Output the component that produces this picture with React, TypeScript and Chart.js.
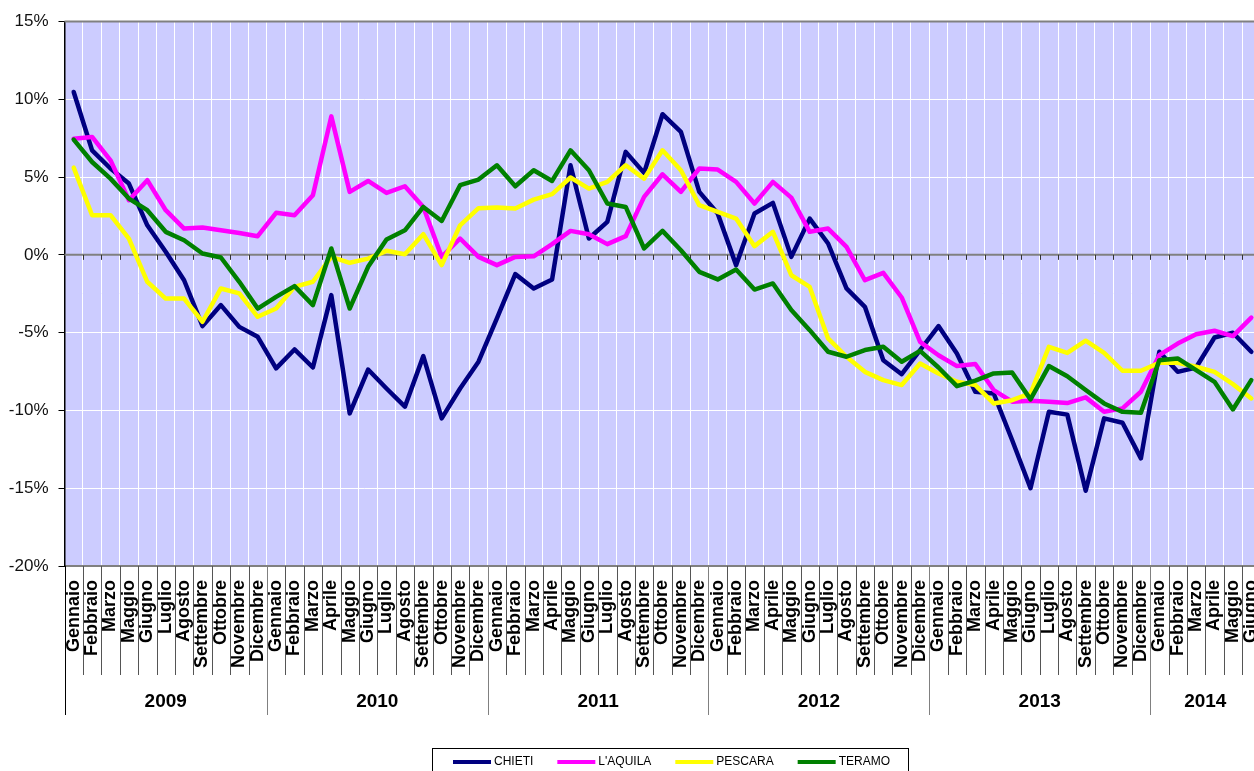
import React, { useEffect, useRef } from 'react';
import { Chart, registerables } from 'chart.js';

Chart.register(...registerables);

// ---- Data ----
const YEARS = ['2009', '2010', '2011', '2012', '2013', '2014'];
const MONTHS_2009 = ['Gennaio', 'Febbraio', 'Marzo', 'Maggio', 'Giugno', 'Luglio', 'Agosto', 'Settembre', 'Ottobre', 'Novembre', 'Dicembre'];
const MONTHS_FULL = ['Gennaio', 'Febbraio', 'Marzo', 'Aprile', 'Maggio', 'Giugno', 'Luglio', 'Agosto', 'Settembre', 'Ottobre', 'Novembre', 'Dicembre'];
const MONTHS_2014 = ['Gennaio', 'Febbraio', 'Marzo', 'Aprile', 'Maggio', 'Giugno'];
const MONTHS_PER_YEAR = [11, 12, 12, 12, 12, 6];
const LABELS = [...MONTHS_2009, ...MONTHS_FULL, ...MONTHS_FULL, ...MONTHS_FULL, ...MONTHS_FULL, ...MONTHS_2014];

const SERIES_NAMES = ['CHIETI', "L'AQUILA", 'PESCARA', 'TERAMO'];
const SERIES_COLORS = ['#000080', '#FF00FF', '#FFFF00', '#008000'];

const CHIETI = [
  10.47, 6.72, 5.55, 4.58, 1.9, 0.2, -1.63, -4.58, -3.23, -4.63, -5.27,
  -7.3, -6.08, -7.24, -2.59, -10.19, -7.37, -8.59, -9.76, -6.51, -10.51, -8.59, -6.87,
  -4.09, -1.24, -2.16, -1.58, 5.76, 1.05, 2.12, 6.62, 5.27, 9.04, 7.9, 4.05,
  2.66, -0.66, 2.66, 3.34, -0.13, 2.33, 0.73, -2.16, -3.34, -6.77, -7.67, -6.12,
  -4.58, -6.34, -8.8, -8.91, -11.9, -15.0, -10.09, -10.27, -15.16, -10.51, -10.79, -13.08,
  -6.23, -7.52, -7.24, -5.31, -5.01, -6.23,
];
const LAQUILA = [
  7.47, 7.58, 6.08, 3.51, 4.8, 2.87, 1.69, 1.76, 1.58, 1.41, 1.2,
  2.7, 2.55, 3.83, 8.9, 4.05, 4.75, 3.98, 4.41, 3.08, -0.13, 1.05, -0.13,
  -0.66, -0.13, -0.09, 0.69, 1.54, 1.33, 0.69, 1.2, 3.73, 5.18, 4.05, 5.55,
  5.48, 4.69, 3.3, 4.69, 3.68, 1.48, 1.69, 0.51, -1.63, -1.16, -2.74, -5.59,
  -6.45, -7.15, -7.02, -8.69, -9.44, -9.38, -9.44, -9.53, -9.16, -10.09, -9.87, -8.8,
  -6.45, -5.7, -5.1, -4.88, -5.22, -4.03,
];
const PESCARA = [
  5.61, 2.55, 2.55, 1.05, -1.73, -2.81, -2.81, -4.3, -2.16, -2.48, -3.98,
  -3.45, -2.06, -1.73, -0.13, -0.51, -0.24, 0.26, 0.04, 1.33, -0.66, 1.9, 3.0,
  3.04, 2.98, 3.55, 3.9, 4.97, 4.26, 4.69, 5.76, 4.9, 6.72, 5.44, 3.19,
  2.76, 2.33, 0.56, 1.48, -1.31, -2.06, -5.37, -6.55, -7.52, -8.05, -8.37, -6.98,
  -7.62, -8.16, -8.37, -9.55, -9.34, -8.91, -5.91, -6.3, -5.52, -6.3, -7.45, -7.45,
  -6.94, -6.94, -7.19, -7.52, -8.31, -9.23,
];
const TERAMO = [
  7.41, 5.97, 4.9, 3.62, 2.87, 1.48, 0.94, 0.09, -0.17, -1.73, -3.45,
  -2.7, -2.01, -3.23, 0.41, -3.45, -0.77, 0.99, 1.58, 3.08, 2.18, 4.48, 4.84,
  5.76, 4.41, 5.44, 4.75, 6.72, 5.44, 3.3, 3.08, 0.41, 1.54, 0.3, -1.09,
  -1.58, -0.94, -2.23, -1.84, -3.55, -4.84, -6.23, -6.55, -6.12, -5.91, -6.87, -6.17,
  -7.24, -8.44, -8.09, -7.62, -7.56, -9.29, -7.15, -7.8, -8.69, -9.55, -10.09, -10.15,
  -6.77, -6.66, -7.41, -8.16, -9.94, -8.05,
];
const SERIES_VALUES = [CHIETI, LAQUILA, PESCARA, TERAMO];

const Y_MIN = -20;
const Y_MAX = 15;
const Y_STEP = 5;

// ---- Canvas geometry ----
const W = 1262;
const H = 790;

const decor = {
  id: 'decor',
  beforeDraw(chart: any) {
    const { ctx, chartArea: a } = chart;
    ctx.save();
    ctx.fillStyle = '#CCCCFF';
    ctx.fillRect(a.left, a.top, a.right - a.left, a.bottom - a.top);
    ctx.restore();
  },
  beforeDatasetsDraw(chart: any) {
    const { ctx, chartArea: a } = chart;
    const xs = chart.scales.x;
    const ys = chart.scales.y;
    ctx.save();
    // top border
    ctx.strokeStyle = '#808080';
    ctx.lineWidth = 2;
    ctx.beginPath();
    ctx.moveTo(a.left, a.top);
    ctx.lineTo(a.right, a.top);
    ctx.stroke();
    // zero line with tick marks
    const y0 = ys.getPixelForValue(0);
    ctx.beginPath();
    ctx.moveTo(a.left, y0);
    ctx.lineTo(a.right, y0);
    ctx.stroke();
    ctx.strokeStyle = '#333333';
    ctx.lineWidth = 1;
    ctx.beginPath();
    for (let i = 1; i < LABELS.length; i++) {
      const bx = Math.round((xs.getPixelForValue(i - 1) + xs.getPixelForValue(i)) / 2) + 0.5;
      ctx.moveTo(bx, y0);
      ctx.lineTo(bx, y0 + 5);
    }
    ctx.stroke();
    ctx.restore();
  },
  afterDraw(chart: any) {
    const { ctx, chartArea: a } = chart;
    const xs = chart.scales.x;
    const half = (xs.getPixelForValue(1) - xs.getPixelForValue(0)) / 2;
    ctx.save();
    // month separators and year separators
    const yearStarts: number[] = [];
    let acc = 0;
    MONTHS_PER_YEAR.forEach((n) => { yearStarts.push(acc); acc += n; });
    ctx.lineWidth = 1;
    for (let i = 0; i <= LABELS.length; i++) {
      const bx = Math.round(i < LABELS.length ? xs.getPixelForValue(i) - half : xs.getPixelForValue(i - 1) + half) + 0.5;
      const isYear = yearStarts.includes(i) || i === LABELS.length;
      ctx.strokeStyle = i === 0 ? '#000000' : isYear ? '#808080' : '#555555';
      ctx.beginPath();
      ctx.moveTo(bx, a.bottom);
      ctx.lineTo(bx, isYear ? 715 : 675);
      ctx.stroke();
    }
    // year labels
    ctx.fillStyle = '#000';
    ctx.font = 'bold 19px "Liberation Sans", Arial, sans-serif';
    ctx.textAlign = 'center';
    ctx.textBaseline = 'middle';
    YEARS.forEach((yr, k) => {
      const s = yearStarts[k];
      const e = s + MONTHS_PER_YEAR[k] - 1;
      const cx = (xs.getPixelForValue(s) - half + xs.getPixelForValue(e) + half) / 2;
      ctx.fillText(yr, cx, 702);
    });
    // legend
    ctx.strokeStyle = '#000';
    ctx.lineWidth = 1;
    ctx.strokeRect(432.5, 748.5, 476, 60);
    ctx.font = '12px "Liberation Sans", Arial, sans-serif';
    ctx.textAlign = 'left';
    let lx = 453;
    const ly = 762;
    SERIES_NAMES.forEach((name, k) => {
      ctx.strokeStyle = SERIES_COLORS[k];
      ctx.lineWidth = 4;
      ctx.beginPath();
      ctx.moveTo(lx, ly);
      ctx.lineTo(lx + 38, ly);
      ctx.stroke();
      ctx.fillStyle = '#000';
      ctx.fillText(name, lx + 41, ly);
      lx += 41 + ctx.measureText(name).width + 24;
    });
    ctx.restore();
  },
};

export default function App() {
  const ref = useRef<HTMLCanvasElement>(null);
  useEffect(() => {
    const canvas = ref.current;
    if (!canvas) return;
    const chart = new Chart(canvas, {
      type: 'line',
      data: {
        labels: LABELS,
        datasets: SERIES_NAMES.map((name, k) => ({
          label: name,
          data: SERIES_VALUES[k],
          borderColor: SERIES_COLORS[k],
          backgroundColor: SERIES_COLORS[k],
          borderWidth: 4.5,
          pointRadius: 0,
          tension: 0,
          borderJoinStyle: 'round' as const,
          borderCapStyle: 'round' as const,
          order: SERIES_NAMES.length - 1 - k,
        })),
      },
      options: {
        responsive: false,
        animation: false,
        devicePixelRatio: 1,
        layout: { padding: { top: 21.5, bottom: H - 675, left: 0, right: W - 1260.5 } },
        plugins: { legend: { display: false }, tooltip: { enabled: false } },
        scales: {
          x: {
            type: 'category',
            offset: true,
            grid: { offset: true, color: '#FFFFFF', lineWidth: 1, drawTicks: false },
            border: { color: '#808080', width: 2 },
            ticks: {
              autoSkip: false,
              maxRotation: 90,
              minRotation: 90,
              padding: 14,
              color: '#000',
              font: { family: '"Liberation Sans", Arial, sans-serif', size: 18, weight: 'bold' },
            },
            afterFit: (s: any) => {
              s.height = 109;
              s.paddingLeft = 0;
              s.paddingRight = 0;
            },
          },
          y: {
            min: Y_MIN,
            max: Y_MAX,
            ticks: {
              stepSize: Y_STEP,
              callback: (v: any) => `${v}%`,
              padding: 10,
              color: '#111',
              font: { family: '"Liberation Sans", Arial, sans-serif', size: 17 },
            },
            grid: { color: '#FFFFFF', tickColor: '#000', tickLength: 6, lineWidth: 1 },
            border: { color: '#000', width: 1.5 },
            afterFit: (s: any) => { s.width = 64.5; },
          },
        },
      } as any,
      plugins: [decor],
    });
    return () => chart.destroy();
  }, []);

  return (
    <div style={{ position: 'absolute', left: 0, top: 0, width: 1254, height: 771, overflow: 'hidden', background: '#fff' }}>
      <canvas ref={ref} width={W} height={H} style={{ display: 'block', width: W, height: H }} />
    </div>
  );
}
